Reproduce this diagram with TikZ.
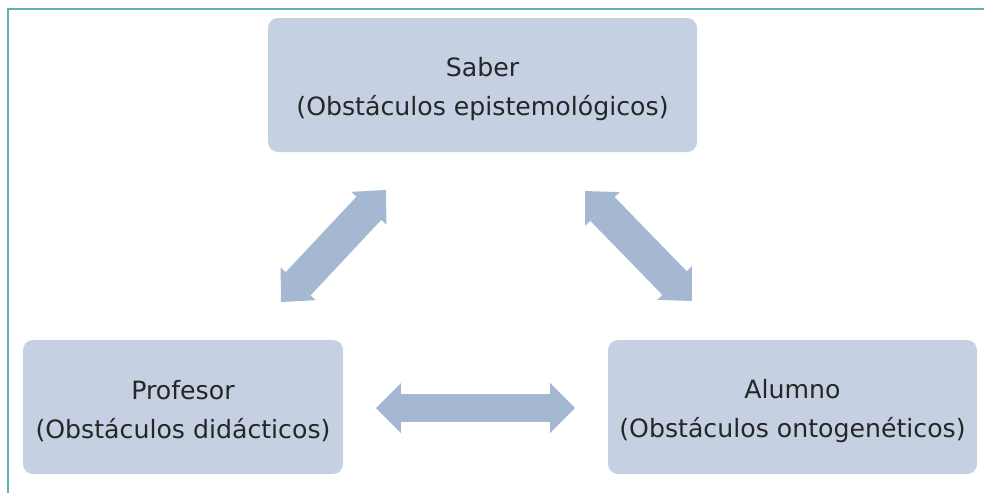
\documentclass[tikz,border=0pt]{standalone}
\usepackage{fontspec}
\setmainfont{DejaVu Sans}
\usetikzlibrary{arrows.meta}
\definecolor{boxc}{HTML}{C5D0E3}
\definecolor{arrc}{HTML}{A5B8D2}
\definecolor{framec}{HTML}{5BB5AC}
\definecolor{txtc}{HTML}{262626}
\newcommand\toppad{\rule{0pt}{27pt}}
\begin{document}
\begin{tikzpicture}[x=1pt,y=-1pt,
  box/.style={fill=boxc, rounded corners=10pt, minimum height=134pt, text=txtc,
    align=center, font=\fontsize{25.2}{39}\selectfont, inner sep=0pt},
  hlink/.style={arrc, line width=28pt, {Triangle[length=25pt,width=50pt,line width=0pt]}-{Triangle[length=25pt,width=50pt,line width=0pt]}},
  dlink/.style={arrc, line width=34pt, {Triangle[length=25pt,width=48pt,line width=0pt]}-{Triangle[length=25pt,width=48pt,line width=0pt]}}]
\useasboundingbox (0,0) rectangle (984,493);
\draw[framec, line width=1.5pt] (8,493) -- (8,9) -- (984,9);
\node[box, minimum width=429pt] (saber) at (482.5,85) {\toppad Saber\\(Obstáculos epistemológicos)};
\node[box, minimum width=320pt] (prof) at (183,407) {\toppad Profesor\\(Obstáculos didácticos)};
\node[box, minimum width=369pt] (alum) at (792.5,407) {\toppad Alumno\\(Obstáculos ontogenéticos)};
\coordinate (l1) at (281,302);
\coordinate (l2) at (386,190);
\coordinate (r1) at (585,191);
\coordinate (r2) at (692,301);
\coordinate (h1) at (376,408);
\coordinate (h2) at (575,408);
\draw[dlink] (l1) -- (l2);
\draw[dlink] (r1) -- (r2);
\draw[hlink] (h1) -- (h2);
\end{tikzpicture}
\end{document}
